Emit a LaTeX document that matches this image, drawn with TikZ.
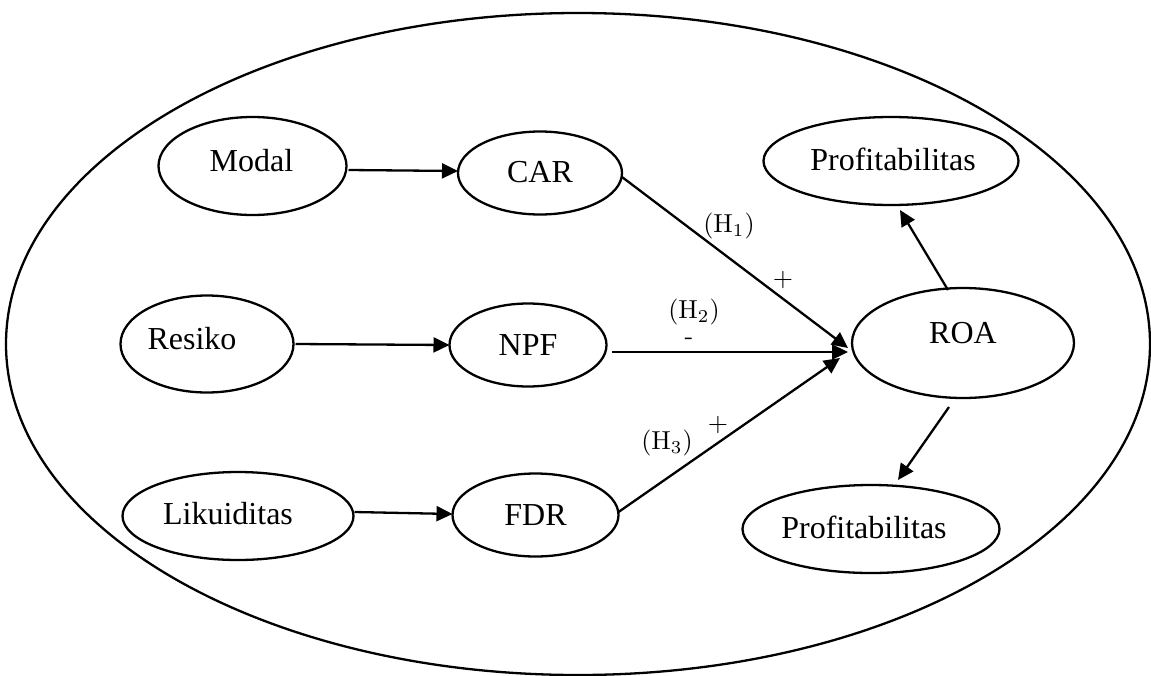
\documentclass[tikz,border=0pt]{standalone}
\usepackage{fontspec}
\newfontfamily\libser{Liberation Serif}
\usetikzlibrary{shapes.geometric,arrows.meta}
\newcommand{\hyptext}[1]{\scalebox{2.6}{#1}}
\begin{document}
\begin{tikzpicture}[x=1pt,y=-1pt,
  oval/.style={draw, ellipse, line width=2.3pt, inner sep=0pt, outer sep=0pt},
  ovaltext/.style={font=\libser\fontsize{32}{36}\selectfont, inner sep=0pt},
  arr/.style={line width=2.3pt, -{Triangle[length=16pt,width=15pt]}},
  hyp/.style={inner sep=0pt}]
\useasboundingbox (0,0) rectangle (1151,675);
\draw[line width=2.3pt] (578,344) ellipse [x radius=572, y radius=331];

\node[oval, minimum width=188pt, minimum height=98pt, label={[ovaltext, xshift=-1pt, yshift=5pt]center:Modal}] (modal) at (252.5,166) {};
\node[oval, minimum width=164pt, minimum height=83pt, label={[ovaltext, yshift=1pt]center:CAR}] (car) at (540,173) {};
\node[oval, minimum width=173pt, minimum height=97pt, label={[ovaltext, xshift=-15pt, yshift=5pt]center:Resiko}] (resiko) at (207,344) {};
\node[oval, minimum width=157pt, minimum height=83pt, label={[ovaltext]center:NPF}] (npf) at (528,345) {};
\node[oval, minimum width=231pt, minimum height=88pt, label={[ovaltext, xshift=-10pt, yshift=2pt]center:Likuiditas}] (likuid) at (238,516) {};
\node[oval, minimum width=166pt, minimum height=83pt, label={[ovaltext]center:FDR}] (fdr) at (535.5,515) {};
\node[oval, minimum width=255pt, minimum height=88pt, label={[ovaltext, xshift=2pt, yshift=2pt]center:Profitabilitas}] (prof1) at (891,161) {};
\node[oval, minimum width=222pt, minimum height=110pt, label={[ovaltext, yshift=10pt]center:ROA}] (roa) at (963,343) {};
\node[oval, minimum width=257pt, minimum height=88pt, label={[ovaltext, xshift=-7pt, yshift=2pt]center:Profitabilitas}] (prof2) at (871,529) {};

\draw[arr] ([shift={(2,4)}]modal.east) -- ([shift={(0,-2)}]car.west);
\draw[arr] ([shift={(2,0)}]resiko.east) -- (npf.west);
\draw[arr] ([shift={(1,-4)}]likuid.east) -- ([shift={(0,-1)}]fdr.west);
\draw[arr] ([shift={(0,4)}]car.east) -- ([shift={(-4,5)}]roa.west);
\draw[arr] ([shift={(5,7)}]npf.east) -- ([shift={(-4,9)}]roa.west);
\draw[arr] ([shift={(0,-3)}]fdr.east) -- ([shift={(-12,15)}]roa.west);
\draw[arr] ([shift={(-15,2)}]roa.north) -- ([shift={(9,5)}]prof1.south);
\draw[arr] ([shift={(-14,9)}]roa.south) -- ([shift={(27,-5)}]prof2.north);

\node[hyp] (h1) at (729,226) {\hyptext{(H\textsubscript{1})}};
\node[hyp] (p1) at (783,280) {\hyptext{+}};
\node[hyp] (h2) at (694,312) {\hyptext{(H\textsubscript{2})}};
\node[hyp] (m2) at (689,341) {\hyptext{-}};
\node[hyp] (h3) at (667,443) {\hyptext{(H\textsubscript{3})}};
\node[hyp] (p3) at (718,425) {\hyptext{+}};
\end{tikzpicture}
\end{document}
